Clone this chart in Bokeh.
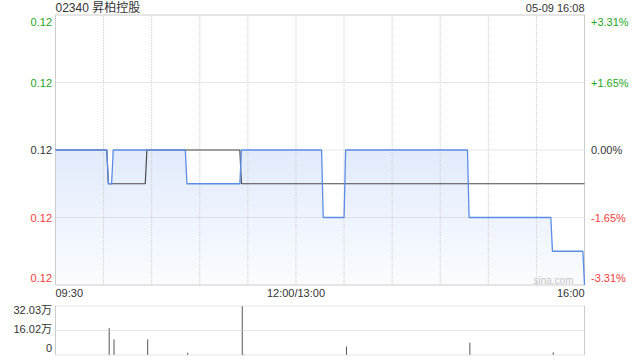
import numpy as np
from bokeh.plotting import figure
from bokeh.models import Range1d, Label
from bokeh.embed import file_html
from bokeh.resources import INLINE

# ---------------- data ----------------
stock_title = "02340 昇柏控股"
stamp_text = "05-09 16:08"
prev_close = 0.121

price_times = ["09:30", "10:02", "10:03", "10:05", "10:06", "10:51", "10:52", "11:25", "11:26",
               "13:16", "13:17", "13:30", "13:31", "14:47", "14:48", "15:39", "15:40", "15:59", "16:00"]
price_values = [0.121, 0.121, 0.120, 0.120, 0.121, 0.121, 0.120, 0.120, 0.121,
                0.121, 0.119, 0.119, 0.121, 0.121, 0.119, 0.119, 0.118, 0.118, 0.117]

avg_times = ["09:30", "10:02", "10:03", "10:26", "10:27", "11:25", "11:26", "16:00"]
avg_values = [0.121, 0.121, 0.120, 0.120, 0.121, 0.121, 0.120, 0.120]

vol_times = ["10:03", "10:06", "10:27", "10:52", "11:26", "11:27", "13:31", "14:48", "15:40"]
vol_values = [176000, 102000, 102000, 15000, 320300, 3000, 56000, 80000, 17000]

price_ticks = [0.125, 0.123, 0.121, 0.119, 0.117]
price_tick_labels = ["0.12", "0.12", "0.12", "0.12", "0.12"]
pct_tick_labels = ["+3.31%", "+1.65%", "0.00%", "-1.65%", "-3.31%"]
grid_price_ticks = [0.123, 0.121, 0.119]
vol_ticks = [320300, 160150, 0]
vol_tick_labels = ["32.03万", "16.02万", "0"]
time_tick_labels = ["09:30", "12:00/13:00", "16:00"]
grid_times = ["10:00", "10:30", "11:00", "11:30", "12:00", "13:30", "14:00", "14:30", "15:00", "15:30"]


def to_idx(s):
    s = s.split("/")[0]
    h, m = map(int, s.split(":"))
    mins = h * 60 + m
    if mins >= 13 * 60:
        return mins - 13 * 60 + 150
    return mins - (9 * 60 + 30)


FONT = "Liberation Sans"
CJK_FONT = "Liberation Sans, Noto Sans CJK SC"
GREEN = "#22a722"
RED = "#f23b3b"
DARK = "#333333"
GRID = "#cdcdcd"
BORDER = "#cccccc"
BLUE = "#5b8de6"

W, H = 640, 360
# pixel layout of the panels (styling)
L_PX, R_PX = 55.0, 584.0
PT_PX, PB_PX = 14.5, 284.5     # price panel top / bottom
VT_PX, VB_PX = 305.5, 354.5    # volume panel top / bottom

px = np.array([to_idx(t) for t in price_times], dtype=float)
py = np.array(price_values)
ax = np.array([to_idx(t) for t in avg_times], dtype=float)
ay = np.array(avg_values)
x_end = to_idx("16:00")
y_lo, y_hi = price_ticks[-1], price_ticks[0]
v_hi = vol_ticks[0]


def span_range(a, b, pa, pb, total):
    # data a at pixel pa, data b at pixel pb; return data values at pixel 0 and total
    k = (b - a) / (pb - pa)
    return a - pa * k, a + (total - pa) * k


x0r, x1r = span_range(0, x_end, L_PX, R_PX, W)
ytop, ybot = span_range(y_hi, y_lo, PT_PX, PB_PX, H)
vtop, vbot = span_range(v_hi, 0, VT_PX, VB_PX, H)

p = figure(width=W, height=H, x_range=Range1d(x0r, x1r), y_range=Range1d(ybot, ytop),
           output_backend="svg", toolbar_location=None, title=None,
           x_axis_location=None, y_axis_location=None,
           min_border=0, min_border_left=0, min_border_right=0, min_border_top=0, min_border_bottom=0)
p.extra_y_ranges = {"vol": Range1d(vbot, vtop)}
p.grid.visible = False
p.outline_line_color = None
p.background_fill_color = "white"
p.border_fill_color = "white"

# gradient fill under the price line (stacked layers)
top_c = np.array([0xe2, 0xeb, 0xfb])
bot_c = np.array([0xfb, 0xfc, 0xff])
n_layers = 24
pmax = py.max()
for i in range(n_layers):
    f = i / (n_layers - 1)
    cap = pmax - f * (pmax - y_lo)
    c = top_c + (bot_c - top_c) * f
    col = "#%02x%02x%02x" % tuple(int(round(v)) for v in c)
    p.varea(x=px, y1=y_lo, y2=np.minimum(py, cap), fill_color=col, fill_alpha=1.0)

# grid lines (dotted)
gx = [to_idx(t) for t in grid_times]
p.segment(x0=gx, y0=y_lo, x1=gx, y1=y_hi, line_color=GRID, line_dash="1 1", line_width=1)
p.segment(x0=0, y0=grid_price_ticks, x1=x_end, y1=grid_price_ticks, line_color=GRID,
          line_dash="1 1", line_width=1)

# price panel border
p.quad(left=0, right=x_end, bottom=y_lo, top=y_hi, fill_color=None, line_color=BORDER, line_width=1)

p.line(ax, ay, line_color="#4a4a4a", line_width=1.2)
p.line(px, py, line_color=BLUE, line_width=1.3)

tick_colors = [GREEN, GREEN, DARK, RED, RED]
tick_offsets = [-6.5, 0, 0, 0, 7]
for yv, lab, pct, c, off in zip(price_ticks, price_tick_labels, pct_tick_labels, tick_colors, tick_offsets):
    p.add_layout(Label(x=0, y=yv, text=lab, x_offset=-3.5, y_offset=off, text_align="right",
                       text_baseline="middle", text_font=FONT, text_font_size="11px", text_color=c))
    p.add_layout(Label(x=x_end, y=yv, text=pct, x_offset=6.5, y_offset=off, text_align="left",
                       text_baseline="middle", text_font=FONT, text_font_size="11px", text_color=c))

aligns = ["left", "center", "right"]
for lab, al in zip(time_tick_labels, aligns):
    p.add_layout(Label(x=to_idx(lab), y=y_lo, text=lab, y_offset=-8, text_align=al,
                       text_baseline="middle", text_font=FONT, text_font_size="11px", text_color=DARK))

p.add_layout(Label(x=0, y=y_hi, text=stock_title, y_offset=7.5, text_align="left",
                   text_baseline="middle", text_font=CJK_FONT, text_font_size="12px", text_color=DARK))
p.add_layout(Label(x=x_end, y=y_hi, text=stamp_text, y_offset=7.5, text_align="right",
                   text_baseline="middle", text_font=FONT, text_font_size="11px", text_color=DARK))
p.add_layout(Label(x=x_end, y=y_lo, text="sina.com", x_offset=-11, y_offset=5, text_align="right",
                   text_baseline="middle", text_font=FONT, text_font_size="10px", text_color="#c4c4c4"))

# ---------------- volume panel ----------------
vx = [to_idx(t) + 0.5 for t in vol_times]
p.segment(x0=vx, y0=0, x1=vx, y1=vol_values, line_color="#555555", line_width=1, y_range_name="vol")
p.segment(x0=0, y0=vol_ticks, x1=x_end, y1=vol_ticks, line_color=GRID, line_dash="1 1",
          line_width=1, y_range_name="vol")
p.segment(x0=[0, x_end], y0=0, x1=[0, x_end], y1=v_hi, line_color=BORDER, line_width=1,
          y_range_name="vol")

vol_offsets = [-4, 1.5, 7.5]
for yv, lab, off in zip(vol_ticks, vol_tick_labels, vol_offsets):
    p.add_layout(Label(x=0, y=yv, y_range_name="vol", text=lab, x_offset=-3.5, y_offset=off,
                       text_align="right", text_baseline="middle", text_font=CJK_FONT,
                       text_font_size="11px", text_color=DARK))

open("out.html", "w").write(file_html(p, INLINE))
